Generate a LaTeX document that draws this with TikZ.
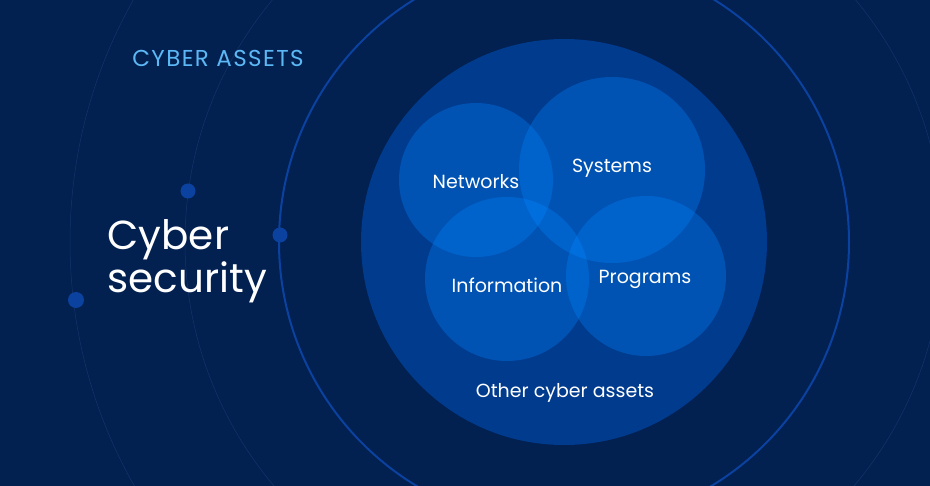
\documentclass[tikz,border=0pt]{standalone}
\usepackage{fontspec}
\setmainfont{Poppins}
\definecolor{navy}{HTML}{022050}
\definecolor{assetblue}{HTML}{003B8E}
\definecolor{ringblue}{HTML}{0B42A0}
\definecolor{faintblue}{HTML}{14356C}
\definecolor{vennblue}{HTML}{0085FF}
\definecolor{skytext}{HTML}{5CB8F5}
\tikzset{
  venncirc/.style={fill=vennblue, fill opacity=0.33},
  vennlabel/.style={text=white, font=\fontsize{19}{22}\selectfont},
  orbit/.style={draw=faintblue, line width=0.5pt},
  orbitdot/.style={fill=ringblue},
}
\begin{document}
\begin{tikzpicture}[x=1pt, y=-1pt]
\fill[navy] (0,0) rectangle (930,486);
\useasboundingbox (0,0) rectangle (930,486);
\clip (0,0) rectangle (930,486);

% orbits
\draw[orbit] (564,242) circle (494pt);
\draw[orbit] (564,242) circle (379pt);
\draw[draw=ringblue, line width=2pt] (564,242) circle (285pt);

% assets
\fill[assetblue] (564,242) circle (203pt);
\fill[venncirc] (476,180) circle (77pt);
\fill[venncirc] (612,170) circle (93pt);
\fill[venncirc] (507,279) circle (82pt);
\fill[venncirc] (646,276) circle (80pt);

% dots
\fill[orbitdot] (76,300) circle (8pt);
\fill[orbitdot] (188,191) circle (7.5pt);
\fill[orbitdot] (280,235) circle (7.5pt);

\node[text=skytext, font=\fontsize{23}{26}\selectfont\addfontfeatures{LetterSpace=6}] (assets) at (218,58) {CYBER ASSETS};
\node[anchor=base west, text=white, font=\fontsize{40.5}{44}\selectfont] (cyber) at (104,250) {Cyber};
\node[anchor=base west, text=white, font=\fontsize{40.5}{44}\selectfont] (security) at (104,293) {security};

\node[vennlabel] (networks) at (476,182) {Networks};
\node[vennlabel] (systems) at (612,168) {Systems};
\node[vennlabel] (information) at (507,285) {Information};
\node[vennlabel] (programs) at (645,279) {Programs};
\node[vennlabel] (other) at (565,393) {Other cyber assets};
\end{tikzpicture}
\end{document}
